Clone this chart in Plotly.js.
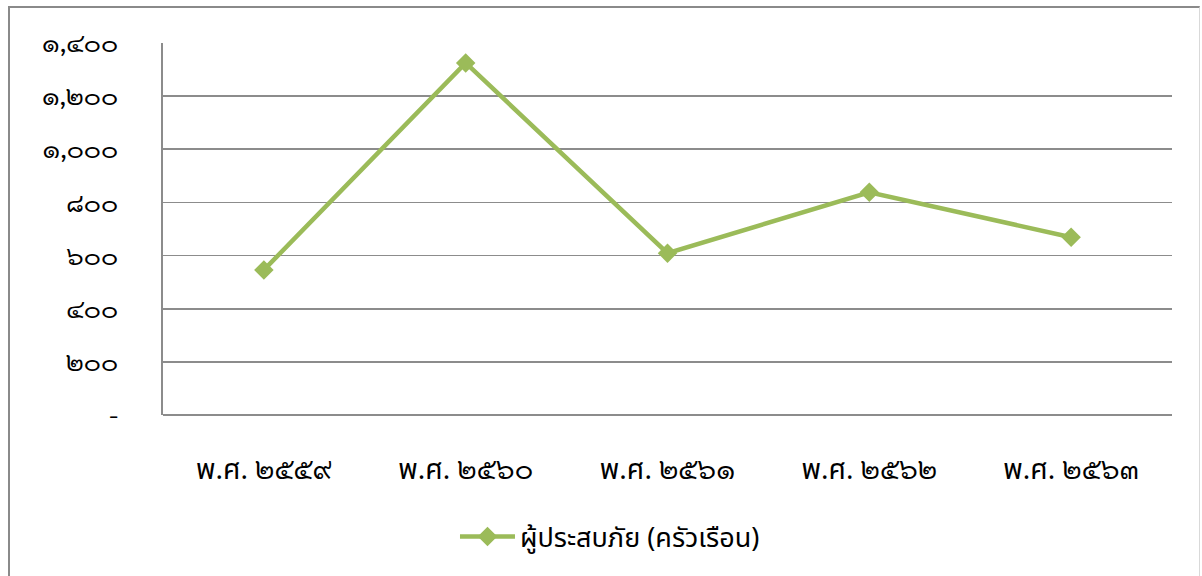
<!DOCTYPE html>
<html>
<head>
<meta charset="utf-8">
<script src="https://cdn.plot.ly/plotly-3.0.1.min.js"></script>
<style>
html,body{margin:0;padding:0;background:#fff;}
#wrap{position:relative;width:1202px;height:576px;overflow:hidden;}
#frame{position:absolute;left:8px;top:6px;width:1192px;height:600px;border-left:2px solid #8a8a8a;border-top:2px solid #8a8a8a;border-right:1px solid #d9d9d9;box-sizing:border-box;pointer-events:none;z-index:2;}
#chart{position:absolute;left:0;top:0;width:1202px;height:576px;}
</style>
</head>
<body>
<div id="wrap">
<div id="chart"></div>
<div id="frame"></div>
</div>
<script>
var eraPrefix = "พ.ศ.";
var yearLabels = ["๒๕๕๙", "๒๕๖๐", "๒๕๖๑", "๒๕๖๒", "๒๕๖๓"];
var categories = ["พ.ศ. ๒๕๕๙", "พ.ศ. ๒๕๖๐", "พ.ศ. ๒๕๖๑", "พ.ศ. ๒๕๖๒", "พ.ศ. ๒๕๖๓"];
var seriesName = "ผู้ประสบภัย (ครัวเรือน)";
var households = [546, 1325, 609, 838, 669];
var yTickValues = [0, 200, 400, 600, 800, 1000, 1200, 1400];
var yTickLabels = ["-", "๒๐๐", "๔๐๐", "๖๐๐", "๘๐๐", "๑,๐๐๐", "๑,๒๐๐", "๑,๔๐๐"];

var sansThai = "Noto Sans Thai";
var digitFont = "Sarabun";

var xTickText = yearLabels.map(function (yr) {
  return eraPrefix + " <span style=\"font-family:Sarabun\">" + yr + "</span>";
});

function buildTrace() {
  return {
    type: "scatter",
    mode: "lines+markers",
    x: categories,
    y: households,
    name: seriesName,
    line: {color: "#9BBB59", width: 4.5},
    marker: {symbol: "diamond", size: 15, color: "#9BBB59"}
  };
}

function buildLayout() {
  return {
    width: 1202,
    height: 576,
    margin: {l: 163, r: 30, t: 43, b: 161},
    paper_bgcolor: "#ffffff",
    plot_bgcolor: "#ffffff",
    font: {family: sansThai, color: "#000000", size: 20},
    showlegend: true,
    legend: {
      orientation: "h",
      x: 0.443, xanchor: "center",
      y: -0.328, yanchor: "middle",
      font: {size: 27, color: "#000000", family: sansThai},
      itemwidth: 55
    },
    xaxis: {
      type: "category",
      range: [-0.5, 4.5],
      tickvals: categories,
      ticktext: xTickText,
      showgrid: false,
      showline: false,
      zeroline: false,
      ticks: "",
      ticklabelstandoff: 35,
      tickfont: {size: 28, color: "#000000", family: sansThai},
      fixedrange: true
    },
    yaxis: {
      range: [0, 1400],
      tickvals: yTickValues,
      ticktext: yTickLabels,
      showgrid: true,
      gridcolor: "#8c8c8c",
      gridwidth: 1.6,
      zeroline: true,
      zerolinecolor: "#8c8c8c",
      zerolinewidth: 1.6,
      showline: true,
      linecolor: "#8c8c8c",
      linewidth: 1.6,
      ticks: "",
      ticklabelstandoff: 38,
      tickfont: {size: 26, color: "#000000", family: digitFont},
      fixedrange: true
    }
  };
}

var config = {displayModeBar: false, staticPlot: true};
function draw() {
  Plotly.react("chart", [buildTrace()], buildLayout(), config);
}
draw();
if (document.fonts && document.fonts.load) {
  Promise.all([
    document.fonts.load("26px Sarabun", "๑,๔๐๐"),
    document.fonts.load("26px 'Noto Sans Thai'", "พ.ศ. ผู้ประสบภัย")
  ]).then(draw, draw);
  if (document.fonts.ready) { document.fonts.ready.then(draw); }
}
</script>
</body>
</html>
